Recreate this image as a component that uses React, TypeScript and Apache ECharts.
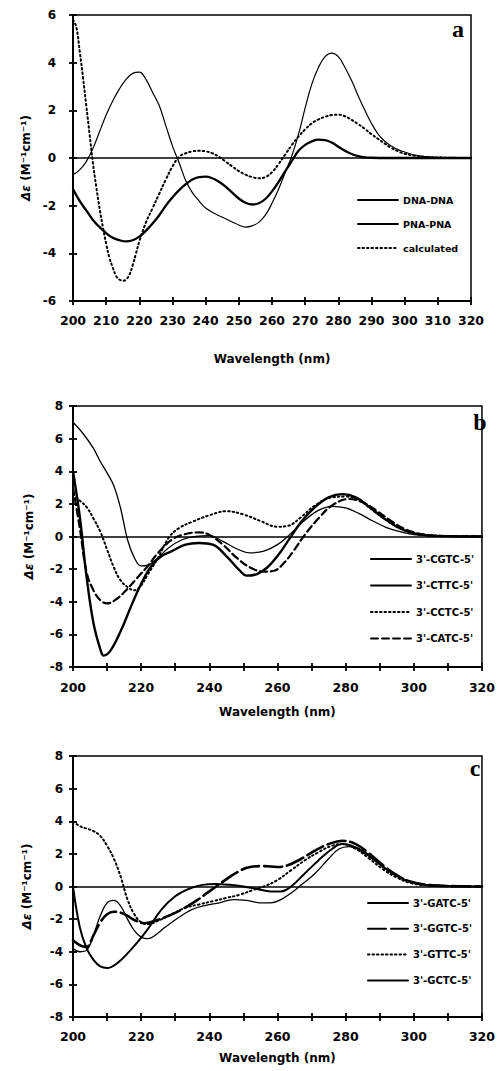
import React, { useEffect, useRef } from "react";
import * as echarts from "echarts";

// ---------- Panel a ----------
const dnaWl = [200,202,204,206,208,210,212,214,216,218,220,222,224,226,228,230,232,234,236,238,240,243,246,249,252,254,256,258,260,262,264,266,268,270,272,274,276,278,280,282,284,286,288,290,292,294,296,298,300,303,306,310,320];
const dnaVal = [-0.7,-0.5,-0.15,0.4,1.1,1.8,2.4,2.9,3.3,3.55,3.6,3.3,2.75,2.2,1.35,0.5,-0.2,-0.95,-1.45,-1.8,-2.1,-2.35,-2.55,-2.75,-2.9,-2.85,-2.7,-2.4,-1.9,-1.3,-0.6,0.1,1.0,2.1,3.1,3.8,4.25,4.4,4.25,3.8,3.25,2.6,2.0,1.45,1.0,0.7,0.5,0.35,0.25,0.12,0.06,0.03,0];

const pnaWl = [200,202,204,206,208,210,212,214,216,218,220,222,224,226,228,230,232,234,236,238,240,242,244,246,248,250,252,254,256,258,260,262,264,266,268,270,272,274,276,278,280,282,284,286,288,290,295,300,320];
const pnaVal = [-1.3,-1.8,-2.2,-2.6,-2.9,-3.15,-3.35,-3.45,-3.5,-3.45,-3.3,-3.05,-2.75,-2.4,-2.0,-1.65,-1.35,-1.1,-0.9,-0.8,-0.78,-0.85,-1.0,-1.2,-1.45,-1.7,-1.88,-1.95,-1.9,-1.72,-1.4,-1.0,-0.55,-0.12,0.3,0.55,0.7,0.77,0.75,0.65,0.47,0.3,0.17,0.08,0.03,0.01,0,0,0];

const calcWl = [200,201,202,203,204,205,206,207,208,209,210,211,212,213,214,215,216,217,218,219,220,222,224,226,228,230,232,234,236,238,240,242,244,246,248,250,252,254,256,258,260,262,264,266,268,270,272,274,276,278,280,282,284,286,288,290,292,294,296,298,300,303,306,310,320];
const calcVal = [5.8,5.5,4.5,3.4,2.2,1.0,-0.2,-1.2,-2.1,-2.9,-3.6,-4.2,-4.6,-4.95,-5.1,-5.15,-5.1,-4.9,-4.5,-4.0,-3.5,-2.7,-2.1,-1.5,-0.9,-0.35,0.05,0.2,0.28,0.3,0.28,0.2,0.05,-0.15,-0.35,-0.55,-0.7,-0.8,-0.85,-0.8,-0.6,-0.25,0.15,0.55,0.9,1.2,1.45,1.62,1.73,1.8,1.82,1.75,1.6,1.42,1.22,1.0,0.8,0.6,0.42,0.28,0.18,0.1,0.05,0.02,0];

// ---------- Panel b ----------
const cgtcWl = [200,202,204,206,208,209,211,214,217,220,223,226,229,233,237,241,245,249,251,254,257,260,263,267,271,275,279,283,287,291,295,299,304,310,320];
const cgtcVal = [4.0,1.2,-2.5,-5.3,-6.9,-7.3,-7.0,-5.8,-4.3,-2.9,-1.8,-1.2,-0.9,-0.5,-0.4,-0.5,-1.2,-2.1,-2.4,-2.3,-1.9,-1.2,-0.3,0.9,1.8,2.4,2.6,2.4,1.8,1.15,0.6,0.25,0.07,0.02,0];

const cttcWl = [200,203,206,208,210,212,214,216,218,220,222,225,228,232,236,240,244,248,252,256,260,264,268,272,276,280,284,288,292,296,300,305,320];
const cttcVal = [7.0,6.3,5.4,4.6,3.9,3.1,1.7,-0.2,-1.3,-1.8,-1.75,-1.3,-0.7,-0.2,0.0,0.05,-0.3,-0.75,-1.0,-0.9,-0.5,0.2,1.0,1.6,1.85,1.75,1.4,0.95,0.55,0.3,0.12,0.04,0];

const cctcWl = [200,202,204,206,208,210,212,214,216,218,220,222,225,228,231,235,240,245,250,255,260,263,267,271,276,280,284,288,292,296,300,305,320];
const cctcVal = [2.6,2.2,1.8,1.1,0.3,-0.8,-1.9,-2.7,-3.1,-3.3,-3.0,-2.3,-1.3,-0.1,0.5,0.9,1.3,1.55,1.35,0.95,0.6,0.65,1.2,1.9,2.4,2.45,2.2,1.6,1.0,0.5,0.2,0.06,0];

const catcWl = [200,202,204,206,208,210,213,216,219,222,225,229,233,237,240,244,248,252,256,259,262,265,268,272,276,281,285,289,293,297,301,305,310,320];
const catcVal = [3.0,0.5,-2.2,-3.3,-3.9,-4.1,-3.8,-3.2,-2.5,-1.8,-1.0,-0.2,0.15,0.25,0.1,-0.5,-1.3,-1.9,-2.15,-2.1,-1.6,-0.8,0.1,1.1,1.9,2.3,2.1,1.6,1.0,0.5,0.2,0.07,0.02,0];

// ---------- Panel c ----------
const gatcWl = [200,202,204,206,208,210,212,214,216,218,220,222,224,227,231,235,239,243,247,251,255,258,261,264,267,271,275,278,281,285,289,293,297,301,305,320];
const gatcVal = [-3.8,-4.0,-3.9,-3.0,-1.8,-1.0,-0.85,-1.2,-2.0,-2.7,-3.1,-3.2,-3.0,-2.5,-1.9,-1.4,-1.15,-1.0,-0.8,-0.85,-1.0,-1.0,-0.8,-0.4,0.1,0.8,1.7,2.3,2.45,2.1,1.5,0.9,0.45,0.2,0.07,0];

const ggtcWl = [200,202,204,206,208,210,212,214,216,218,221,224,228,232,236,240,244,248,252,256,260,263,267,271,275,279,283,287,291,295,299,304,310,320];
const ggtcVal = [-3.3,-3.6,-3.7,-3.0,-2.2,-1.7,-1.55,-1.6,-1.8,-2.05,-2.25,-2.1,-1.8,-1.4,-0.9,-0.3,0.3,0.85,1.2,1.25,1.2,1.3,1.7,2.2,2.6,2.8,2.6,2.0,1.3,0.7,0.3,0.1,0.03,0];

const gttcWl = [200,202,204,206,208,210,212,214,216,218,220,222,225,229,233,237,241,245,249,253,256,260,264,268,272,276,279,283,287,291,295,299,304,320];
const gttcVal = [4.0,3.7,3.55,3.4,3.1,2.5,1.7,0.6,-0.8,-1.7,-2.2,-2.3,-2.1,-1.7,-1.3,-1.1,-0.9,-0.7,-0.5,-0.2,0.0,0.4,1.0,1.6,2.1,2.5,2.6,2.3,1.7,1.05,0.55,0.22,0.07,0];

const gctcWl = [200,202,204,206,208,210,213,216,219,222,226,230,234,238,242,246,250,254,258,261,264,268,272,276,279,283,287,291,295,299,304,320];
const gctcVal = [0,-2.5,-3.8,-4.5,-4.9,-5.0,-4.7,-4.1,-3.4,-2.6,-1.4,-0.6,-0.15,0.1,0.15,0.1,0.0,-0.15,-0.3,-0.3,0.0,0.8,1.6,2.3,2.6,2.4,1.9,1.2,0.65,0.28,0.08,0];

const FONT = '"DejaVu Sans", sans-serif';
const pair = (wl: number[], v: number[]) => wl.map((w, i) => [w, v[i]]);

export default function App() {
  const ref = useRef<HTMLDivElement>(null);
  useEffect(() => {
    const chart = echarts.init(ref.current!, null, { renderer: "svg" });

    const grids = [
      { left: 73, top: 15, width: 398, height: 286 },
      { left: 73, top: 406, width: 414, height: 261 },
      { left: 73, top: 756, width: 414, height: 261 },
    ];
    const yRange = [[-6, 6], [-8, 8], [-8, 8]];
    const xLabelEvery = [10, 20, 20];
    const xMargin = [13, 14, 13];
    const xNameGap = [52, 39, 35];
    const yMargin = [17, 10, 10];
    const yNameGap = [41, 38, 40];
    const tickStyle = { color: "#000", width: 1.8 };

    const xAxis: any[] = [];
    const yAxis: any[] = [];
    for (let i = 0; i < 3; i++) {
      const every = xLabelEvery[i];
      xAxis.push({
        type: "value", gridIndex: i, min: 200, max: 320, interval: 10, position: "bottom",
        axisLine: { show: true, onZero: false, lineStyle: { color: "#000", width: 2 } },
        axisTick: { show: true, inside: false, length: 4, lineStyle: tickStyle },
        axisLabel: {
          color: "#000", fontFamily: FONT, fontWeight: "bold", fontSize: 12.5, margin: xMargin[i],
          formatter: (v: number) => (v % every === 0 ? String(v) : ""),
        },
        splitLine: { show: false },
        name: "Wavelength (nm)", nameLocation: "middle", nameGap: xNameGap[i],
        nameTextStyle: { color: "#000", fontFamily: FONT, fontWeight: "bold", fontSize: 12 },
      });
      xAxis.push({
        type: "value", gridIndex: i, min: 200, max: 320, interval: 10, position: "bottom",
        axisLine: { show: false, onZero: false },
        axisTick: { show: true, inside: true, length: 4, lineStyle: tickStyle },
        axisLabel: { show: false }, splitLine: { show: false },
      });
      yAxis.push({
        type: "value", gridIndex: i, min: yRange[i][0], max: yRange[i][1], interval: 2, position: "left",
        axisLine: { show: true, onZero: false, lineStyle: { color: "#000", width: 2 } },
        axisTick: { show: true, inside: false, length: 4, lineStyle: tickStyle },
        axisLabel: { color: "#000", fontFamily: FONT, fontWeight: "bold", fontSize: 12, margin: yMargin[i] },
        splitLine: { show: false },
        name: "{i|Δε} (M⁻¹cm⁻¹)", nameLocation: "middle", nameGap: yNameGap[i],
        nameTextStyle: {
          color: "#000", fontFamily: FONT, fontWeight: "bold", fontSize: 12,
          rich: { i: { fontStyle: "italic", fontWeight: "bold", fontFamily: FONT, fontSize: 12, color: "#000" } },
        },
      });
      yAxis.push({
        type: "value", gridIndex: i, min: yRange[i][0], max: yRange[i][1], interval: 2, position: "left",
        axisLine: { show: false, onZero: false },
        axisTick: { show: true, inside: true, length: 4, lineStyle: tickStyle },
        axisLabel: { show: false }, splitLine: { show: false },
      });
    }

    const zeroLine = {
      silent: true, symbol: ["none", "none"], label: { show: false },
      lineStyle: { color: "#000", width: 1.5, type: "solid" },
      emphasis: { disabled: true },
      data: [{ yAxis: 0 }],
    };

    const mk = (name: string, wl: number[], v: number[], panel: number, width: number, dash?: number[] | null, withZero = false) => ({
      name, type: "line", xAxisIndex: panel * 2, yAxisIndex: panel * 2,
      data: pair(wl, v), smooth: 0.4, symbol: "none", showSymbol: false,
      lineStyle: { color: "#000", width, type: dash ? dash : "solid", cap: "round" },
      itemStyle: { color: "#000" },
      emphasis: { disabled: true },
      markLine: withZero ? zeroLine : undefined,
    });

    const dot = [1.5, 3];
    const series = [
      mk("DNA-DNA", dnaWl, dnaVal, 0, 1.2, null, true),
      mk("PNA-PNA", pnaWl, pnaVal, 0, 2.3),
      mk("calculated", calcWl, calcVal, 0, 2, dot),
      mk("3'-CGTC-5'", cgtcWl, cgtcVal, 1, 2.4, null, true),
      mk("3'-CTTC-5'", cttcWl, cttcVal, 1, 1.3),
      mk("3'-CCTC-5'", cctcWl, cctcVal, 1, 2, dot),
      mk("3'-CATC-5'", catcWl, catcVal, 1, 2.2, [7, 4]),
      mk("3'-GATC-5'", gatcWl, gatcVal, 2, 1.3, null, true),
      mk("3'-GGTC-5'", ggtcWl, ggtcVal, 2, 2.6, [18, 5]),
      mk("3'-GTTC-5'", gttcWl, gttcVal, 2, 2, dot),
      mk("3'-GCTC-5'", gctcWl, gctcVal, 2, 2),
    ];

    const legendBase = {
      orient: "vertical", itemWidth: 40, itemHeight: 10, selectedMode: false, padding: 0,
      itemStyle: { opacity: 0 },
      textStyle: { color: "#000", fontFamily: FONT, fontWeight: "bold", fontSize: 9.5 },
    };
    const legend = [
      { ...legendBase, data: ["DNA-DNA", "PNA-PNA", "calculated"], left: 357, top: 195, itemGap: 14 },
      { ...legendBase, data: ["3'-CGTC-5'", "3'-CTTC-5'", "3'-CCTC-5'", "3'-CATC-5'"], left: 370, top: 554, itemGap: 16.5,
        textStyle: { ...legendBase.textStyle, fontSize: 10 } },
      { ...legendBase, data: ["3'-GATC-5'", "3'-GGTC-5'", "3'-GTTC-5'", "3'-GCTC-5'"], left: 367, top: 898, itemGap: 15.8,
        textStyle: { ...legendBase.textStyle, fontSize: 10 } },
    ];

    const letter = (t: string, x: number, y: number) => ({
      type: "text", x, y, silent: true,
      style: { text: t, fill: "#000", font: 'bold 24px "Liberation Serif", serif', align: "center", verticalAlign: "middle" },
    });

    chart.setOption({
      animation: false,
      backgroundColor: "#fff",
      grid: grids.map((g) => ({ ...g, show: true, borderColor: "#000", borderWidth: 1.5, backgroundColor: "transparent" })),
      xAxis, yAxis, series, legend,
      graphic: [letter("a", 458, 29), letter("b", 480, 422), letter("c", 475, 768)],
    });
    return () => chart.dispose();
  }, []);
  return <div ref={ref} style={{ position: "absolute", left: 0, top: 0, width: 498, height: 1071, background: "#fff" }} />;
}
